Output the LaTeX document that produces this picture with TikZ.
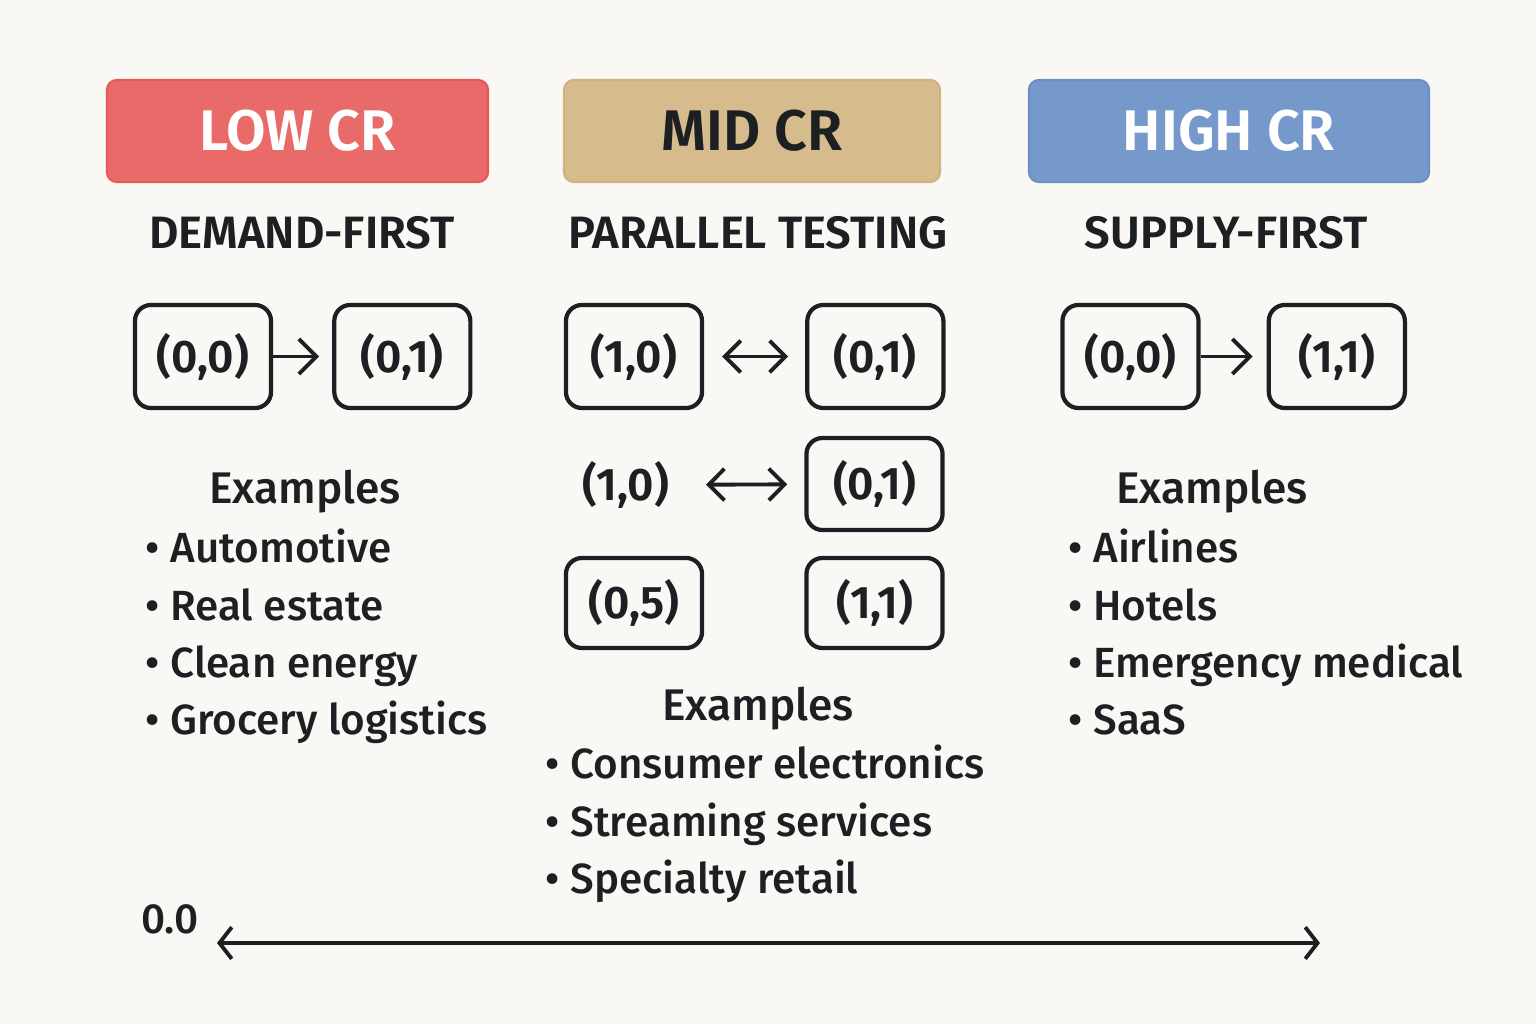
\documentclass[tikz,border=0pt]{standalone}
\usepackage{fontspec}
\setmainfont{Fira Sans}[UprightFont={* Medium},BoldFont={* SemiBold}]
\usetikzlibrary{arrows.meta,positioning}
\definecolor{paper}{HTML}{FAF8F4}
\definecolor{ink}{HTML}{1D2023}
\definecolor{lowfill}{HTML}{E96B69}
\definecolor{lowline}{HTML}{E35A58}
\definecolor{midfill}{HTML}{D6BB8D}
\definecolor{midline}{HTML}{CFB283}
\definecolor{highfill}{HTML}{7499CA}
\definecolor{highline}{HTML}{6A90C4}

\begin{document}
\begin{tikzpicture}[x=0.01cm, y=-0.01cm, font=\fontsize{12}{14}\selectfont, text=ink]
\tikzstyle{hdr}=[rectangle, rounded corners=0.1cm, draw, line width=0.6pt, minimum height=1.02cm, font=\fontsize{16.3}{18}\selectfont\bfseries]
\tikzstyle{sub}=[font=\fontsize{12.9}{15}\selectfont\bfseries]
\tikzstyle{cell}=[rectangle, rounded corners=0.16cm, draw=ink, line width=1.2pt, minimum width=1.36cm, minimum height=1.03cm, font=\fontsize{13}{15}\selectfont\bfseries]
\tikzstyle{item}=[anchor=base west, inner sep=0pt]
\tikzstyle{link}=[draw=ink, line width=1.1pt, -{Straight Barb[length=5pt, width=10pt, line width=1.1pt]}]
\tikzstyle{both}=[draw=ink, line width=1.1pt, {Straight Barb[length=4.5pt, width=9pt, line width=1.1pt]}-{Straight Barb[length=4.5pt, width=9pt, line width=1.1pt]}]
\fill[paper] (0,0) rectangle (1536,1024);
\useasboundingbox (0,0) rectangle (1536,1024);

% headers
\node[hdr, fill=lowfill, draw=lowline, text=white, minimum width=3.81cm] (low) at (297.5,131) {LOW CR};
\node[hdr, fill=midfill, draw=midline, text=ink, minimum width=3.76cm] (mid) at (752,131) {MID CR};
\node[hdr, fill=highfill, draw=highline, text=white, minimum width=4.0cm] (high) at (1229,131) {HIGH CR};
\node[sub] (lowsub) at (302,233) {DEMAND-FIRST};
\node[sub] (midsub) at (758,233) {PARALLEL TESTING};
\node[sub] (highsub) at (1226,233) {SUPPLY-FIRST};

% demand-first
\node[cell] (l00) at (203,356.5) {(0,0)};
\node[cell, right=0.59cm of l00] (l01) {(0,1)};
\draw[link, shorten >=0.13cm] (l00) -- (l01);

% parallel testing
\node[cell] (m10) at (634,356.5) {(1,0)};
\node[cell, right=1.01cm of m10] (m01) {(0,1)};
\draw[both, shorten <=0.18cm, shorten >=0.17cm] (m10) -- (m01);
\node[cell, minimum height=0.92cm] (m01b) at (874.5,484) {(0,1)};
\node[font=\fontsize{13}{15}\selectfont\bfseries, inner sep=0pt] (m10b) at (626,485) {(1,0)};
\draw[both, shorten <=0.36cm, shorten >=0.17cm] (m10b) -- (m01b);
\node[cell, minimum height=0.9cm] (m05) at (634,603) {(0,5)};
\node[cell, minimum height=0.9cm] (m11) at (874.5,603) {(1,1)};

% supply-first
\node[cell] (r00) at (1130.5,356.5) {(0,0)};
\node[cell, right=0.66cm of r00] (r11) {(1,1)};
\draw[link, shorten >=0.14cm] (r00) -- (r11);

% examples
\node[anchor=base, font=\fontsize{12.6}{15}\selectfont] (lowex) at (305,503) {Examples};
\node[item] (lowa) at (145,562) {• Automotive};
\node[item] (lowb) at (145,620) {• Real estate};
\node[item] (lowc) at (145,677) {• Clean energy};
\node[item] (lowd) at (145,734) {• Grocery logistics};

\node[anchor=base, font=\fontsize{12.6}{15}\selectfont] (midex) at (758,720) {Examples};
\node[item] (mida) at (545,778) {• Consumer electronics};
\node[item] (midb) at (545,836) {• Streaming services};
\node[item] (midc) at (545,893) {• Specialty retail};

\node[anchor=base, font=\fontsize{12.6}{15}\selectfont] (highex) at (1212,503) {Examples};
\node[item] (higha) at (1068,562) {• Airlines};
\node[item] (highb) at (1068,620) {• Hotels};
\node[item] (highc) at (1068,677) {• Emergency medical};
\node[item] (highd) at (1068,734) {• SaaS};

% axis
\node[font=\fontsize{12}{14}\selectfont\mdseries] (zero) at (170,919) {0.0};
\coordinate (axl) at (217,943);
\coordinate (axr) at (1320,943);
\draw[draw=ink, line width=1.2pt, {Straight Barb[length=3.5pt, width=9pt, line width=1.1pt]}-{Straight Barb[length=3.5pt, width=9pt, line width=1.1pt]}] (axl) -- (axr);
\end{tikzpicture}
\end{document}
